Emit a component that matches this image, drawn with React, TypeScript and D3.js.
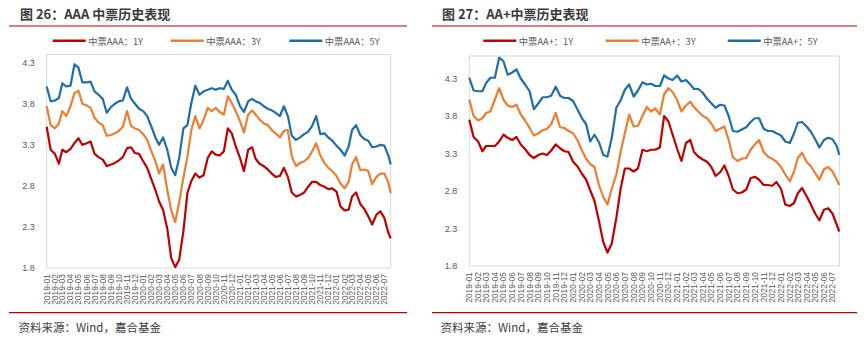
import React from 'react';
import * as d3 from 'd3';

// ---------- DATA ----------
const monthLabels = [
  '2019-01','2019-02','2019-03','2019-04','2019-05','2019-06','2019-07','2019-08','2019-09','2019-10','2019-11','2019-12',
  '2020-01','2020-02','2020-03','2020-04','2020-05','2020-06','2020-07','2020-08','2020-09','2020-10','2020-11','2020-12',
  '2021-01','2021-02','2021-03','2021-04','2021-05','2021-06','2021-07','2021-08','2021-09','2021-10','2021-11','2021-12',
  '2022-01','2022-02','2022-03','2022-04','2022-05','2022-06','2022-07',
];
const lastDate = '2022-07-25';

const yTicks = [1.8, 2.3, 2.8, 3.3, 3.8, 4.3];

// Left chart: AAA
const aaa1Y = [
  3.52, 3.24, 3.19, 3.07, 3.24, 3.21, 3.25, 3.32, 3.38, 3.30,
  3.32, 3.34, 3.19, 3.15, 3.12, 3.04, 3.06, 3.08, 3.11, 3.15,
  3.26, 3.27, 3.20, 3.19, 3.10, 3.02, 2.88, 2.75, 2.61, 2.51,
  2.28, 1.92, 1.81, 1.90, 2.25, 2.71, 2.86, 2.95, 2.90, 2.93,
  3.14, 3.22, 3.18, 3.17, 3.22, 3.50, 3.44, 3.28, 3.14, 2.98,
  3.24, 3.27, 3.13, 3.07, 3.04, 3.00, 2.95, 2.91, 2.92, 3.02,
  2.91, 2.72, 2.67, 2.69, 2.72, 2.79, 2.85, 2.85, 2.81, 2.79,
  2.76, 2.77, 2.73, 2.55, 2.50, 2.51, 2.67, 2.72, 2.58, 2.52,
  2.43, 2.33, 2.45, 2.49, 2.41, 2.23,
  2.16,
];
const aaa3Y = [
  3.77, 3.54, 3.50, 3.56, 3.71, 3.65, 3.77, 3.93, 3.96, 3.80,
  3.78, 3.75, 3.63, 3.57, 3.54, 3.41, 3.42, 3.44, 3.47, 3.52,
  3.71, 3.53, 3.50, 3.48, 3.43, 3.36, 3.22, 3.10, 2.95, 3.06,
  2.75, 2.50, 2.36, 2.60, 2.90, 3.15, 3.48, 3.65, 3.50, 3.60,
  3.75, 3.71, 3.75, 3.70, 3.67, 3.89, 3.81, 3.71, 3.59, 3.45,
  3.67, 3.72, 3.67, 3.61, 3.56, 3.54, 3.48, 3.44, 3.39, 3.47,
  3.48, 3.16, 3.04, 3.08, 3.10, 3.14, 3.22, 3.32, 3.17, 3.08,
  3.02, 2.98, 2.92, 2.83, 2.77, 2.85, 3.06, 3.15, 2.99, 3.00,
  2.98, 2.82, 2.91, 2.95, 2.95, 2.84,
  2.71,
];
const aaa5Y = [
  4.01, 3.83, 3.84, 3.87, 4.05, 4.01, 4.02, 4.28, 4.24, 4.06,
  4.06, 4.07, 3.95, 3.91, 3.86, 3.69, 3.76, 3.80, 3.83, 3.84,
  4.00, 3.86, 3.80, 3.74, 3.71, 3.65, 3.52, 3.39, 3.30, 3.39,
  3.24, 3.02, 2.93, 3.14, 3.50, 3.54, 3.81, 4.02, 3.91, 3.95,
  3.97, 3.99, 3.97, 3.99, 3.98, 4.08, 3.97, 3.91, 3.77, 3.70,
  3.83, 3.86, 3.83, 3.81, 3.77, 3.74, 3.72, 3.69, 3.65, 3.77,
  3.65, 3.41, 3.36, 3.39, 3.43, 3.46, 3.53, 3.65, 3.43, 3.44,
  3.39, 3.35, 3.29, 3.24, 3.17, 3.28, 3.48, 3.54, 3.42, 3.37,
  3.35, 3.27, 3.28, 3.30, 3.29, 3.17,
  3.06,
];

// Right chart: AA+
const aap1Y = [
  3.75, 3.52, 3.46, 3.33, 3.40, 3.40, 3.40, 3.46, 3.55, 3.51,
  3.48, 3.52, 3.42, 3.36, 3.28, 3.24, 3.28, 3.30, 3.28, 3.34,
  3.42, 3.37, 3.33, 3.32, 3.19, 3.13, 3.03, 2.95, 2.81, 2.67,
  2.40, 2.12, 1.98, 2.10, 2.44, 2.83, 3.10, 3.10, 3.06, 3.10,
  3.35, 3.33, 3.35, 3.35, 3.38, 3.80, 3.73, 3.55, 3.36, 3.20,
  3.44, 3.48, 3.32, 3.26, 3.22, 3.19, 3.12, 3.00, 3.05, 3.14,
  3.00, 2.82, 2.77, 2.78, 2.82, 2.97, 2.99, 2.95, 2.88, 2.88,
  2.87, 2.92, 2.83, 2.62, 2.60, 2.64, 2.77, 2.84, 2.73, 2.62,
  2.50, 2.41, 2.55, 2.57, 2.50, 2.35,
  2.26,
];
const aap3Y = [
  4.02, 3.80, 3.74, 3.77, 3.84, 3.86, 4.02, 4.17, 4.02, 3.94,
  3.92, 3.95, 3.82, 3.74, 3.64, 3.54, 3.57, 3.61, 3.63, 3.69,
  3.84, 3.65, 3.64, 3.60, 3.57, 3.48, 3.34, 3.23, 3.16, 3.12,
  2.88, 2.72, 2.62, 2.83, 3.02, 3.32, 3.57, 3.82, 3.66, 3.67,
  3.80, 3.92, 3.86, 3.90, 3.82, 4.09, 4.17, 4.12, 4.01, 3.86,
  3.94, 3.99, 3.92, 3.86, 3.80, 3.77, 3.70, 3.60, 3.63, 3.66,
  3.48, 3.25, 3.20, 3.23, 3.24, 3.35, 3.42, 3.48, 3.32, 3.26,
  3.23, 3.19, 3.12, 3.02, 2.93, 3.06, 3.24, 3.31, 3.19, 3.13,
  3.04, 2.95, 3.09, 3.12, 3.06, 2.95,
  2.88,
];
const aap5Y = [
  4.31, 4.14, 4.13, 4.13, 4.24, 4.31, 4.31, 4.58, 4.53, 4.35,
  4.38, 4.42, 4.30, 4.22, 4.13, 3.89, 3.97, 4.05, 4.05, 4.07,
  4.19, 4.07, 4.04, 4.04, 4.00, 3.89, 3.77, 3.69, 3.46, 3.55,
  3.45, 3.28, 3.26, 3.51, 3.91, 4.01, 4.15, 4.22, 4.06, 4.14,
  4.25, 4.22, 4.23, 4.20, 4.20, 4.34, 4.30, 4.28, 4.34, 4.26,
  4.28, 4.22, 4.16, 4.16, 4.11, 4.03, 3.97, 3.91, 3.95, 3.94,
  3.80, 3.60, 3.59, 3.62, 3.65, 3.72, 3.77, 3.77, 3.63, 3.60,
  3.60, 3.57, 3.54, 3.46, 3.44, 3.57, 3.71, 3.72, 3.66, 3.59,
  3.49, 3.38, 3.48, 3.51, 3.49, 3.40,
  3.28,
];

const seriesColors = ['#C00000', '#ED7D31', '#1F6EA8'];

// ---------- HELPERS ----------
const parse = d3.timeParse('%Y-%m-%d');
const sampleDates: Date[] = monthLabels
  .flatMap((m) => [`${m}-01`, `${m}-16`])
  .concat([lastDate])
  .map((s) => parse(s) as Date);
const tickDates: Date[] = monthLabels.map((m) => parse(`${m}-01`) as Date);

const CJK = '"Noto Sans CJK SC", "Liberation Sans", Arial, sans-serif';
const LATIN = '"Liberation Sans", Arial, sans-serif';

type PanelProps = {
  title: string;
  titleX: number;
  ruleX1: number;
  ruleX2: number;
  plot: { left: number; right: number; top: number; bottom: number };
  yMax: number;
  legend: { names: string[]; x: number[] };
  series: number[][];
};

function Panel(p: PanelProps) {
  const x = d3
    .scaleTime()
    .domain([sampleDates[0], sampleDates[sampleDates.length - 1]])
    .range([p.plot.left, p.plot.right]);
  const y = d3.scaleLinear().domain([1.8, p.yMax]).range([p.plot.bottom, p.plot.top]);
  const line = d3
    .line<number>()
    .x((_, i) => x(sampleDates[i]))
    .y((d) => y(d));

  return (
    <g>
      <text x={p.titleX} y={13.5} fontFamily={CJK} fontSize={13} fontWeight={700} fill="#3a3a3a" dominantBaseline="central">
        {p.title}
      </text>
      <line x1={p.ruleX1} x2={p.ruleX2} y1={26} y2={26} stroke="#C00000" strokeWidth={1.2} />

      {p.legend.names.map((n, i) => (
        <g key={n}>
          <line x1={p.legend.x[i]} x2={p.legend.x[i] + 33} y1={40.7} y2={40.7} stroke={seriesColors[i]} strokeWidth={2.5} />
          <text x={p.legend.x[i] + 35.5} y={40.7} fontFamily={CJK} fontSize={9.3} fill="#595959" dominantBaseline="central">
            {n}
          </text>
        </g>
      ))}

      <rect
        x={p.plot.left}
        y={p.plot.top}
        width={p.plot.right - p.plot.left}
        height={p.plot.bottom - p.plot.top}
        fill="none"
        stroke="#D9D9D9"
        strokeWidth={1}
      />

      {yTicks.map((t) => (
        <text key={t} x={p.plot.left - 12} y={y(t)} textAnchor="end" dominantBaseline="central" fontFamily={LATIN} fontSize={9} fill="#595959">
          {t.toFixed(1)}
        </text>
      ))}

      {tickDates.map((d, i) => (
        <text
          key={i}
          transform={`translate(${x(d)},${p.plot.bottom + 6}) rotate(-90)`}
          textAnchor="end"
          dominantBaseline="central"
          fontFamily={LATIN}
          fontSize={8.4}
          fill="#595959"
        >
          {monthLabels[i]}
        </text>
      ))}

      {p.series.map((s, i) => (
        <path key={i} d={line(s) || ''} fill="none" stroke={seriesColors[i]} strokeWidth={2.2} strokeLinejoin="round" />
      ))}

      <line x1={p.ruleX1} x2={p.ruleX2} y1={312.7} y2={312.7} stroke="#C00000" strokeWidth={1.2} />
      <text x={p.titleX - 1.5} y={327} fontFamily={CJK} fontSize={11.5} fill="#404040" dominantBaseline="central">
        资料来源：Wind，嘉合基金
      </text>
    </g>
  );
}

export default function App() {
  return (
    <svg width={867} height={340} style={{ position: 'absolute', left: 0, top: 0, background: '#fff' }}>
      <rect width={867} height={340} fill="#fff" />
      <Panel
        title="图 26：AAA 中票历史表现"
        titleX={20}
        ruleX1={9}
        ruleX2={407}
        plot={{ left: 46.7, right: 390.7, top: 54.5, bottom: 268 }}
        yMax={4.4}
        legend={{ names: ['中票AAA：1Y', '中票AAA：3Y', '中票AAA：5Y'], x: [52.7, 170.7, 289.3] }}
        series={[aaa1Y, aaa3Y, aaa5Y]}
      />
      <Panel
        title="图 27：AA+中票历史表现"
        titleX={442}
        ruleX1={432}
        ruleX2={857}
        plot={{ left: 469.3, right: 839.3, top: 56, bottom: 266 }}
        yMax={4.6}
        legend={{ names: ['中票AA+：1Y', '中票AA+：3Y', '中票AA+：5Y'], x: [483.3, 605.7, 727.7] }}
        series={[aap1Y, aap3Y, aap5Y]}
      />
    </svg>
  );
}
